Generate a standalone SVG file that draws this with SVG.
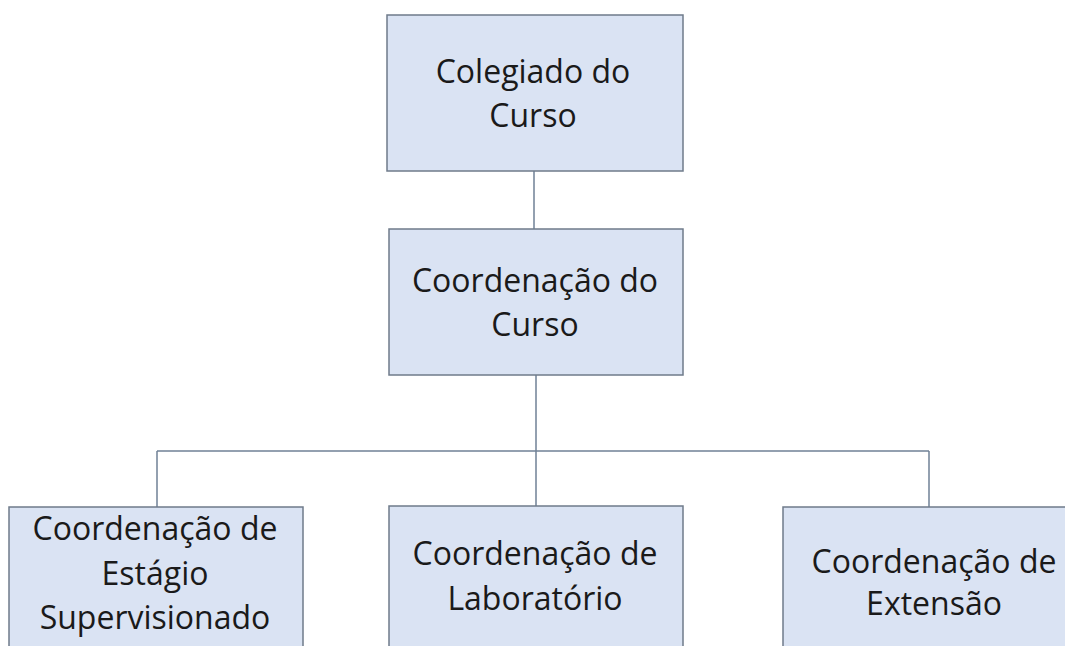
<svg xmlns="http://www.w3.org/2000/svg" width="1065" height="646" viewBox="0 0 1065 646">
<style>
.box{fill:#dae3f3;stroke:#6f7b8a;stroke-width:1.5}
.lbl{font-family:"Open Sans","Noto Sans",sans-serif;font-size:32px;fill:#1a1a1a;text-anchor:middle}
.con{stroke:#6f8096;stroke-width:1.5;fill:none}
</style>
<rect width="1065" height="646" fill="#ffffff"/>
<g id="connectors">
<line class="con" x1="534" y1="171" x2="534" y2="229"/>
<line class="con" x1="536" y1="375" x2="536" y2="506"/>
<line class="con" x1="157" y1="451" x2="929" y2="451"/>
<line class="con" x1="157" y1="451" x2="157" y2="507"/>
<line class="con" x1="929" y1="451" x2="929" y2="507"/>
</g>
<g id="colegiado">
<rect class="box" x="387" y="15" width="296" height="156"/>
<text class="lbl" x="533" y="83">Colegiado do</text>
<text class="lbl" x="533" y="127">Curso</text>
</g>
<g id="coordenacao">
<rect class="box" x="389" y="229" width="294" height="146"/>
<text class="lbl" x="535" y="292">Coordenação do</text>
<text class="lbl" x="535" y="336">Curso</text>
</g>
<g id="estagio">
<rect class="box" x="9" y="507" width="294" height="160"/>
<text class="lbl" x="155" y="540">Coordenação de</text>
<text class="lbl" x="155" y="585">Estágio</text>
<text class="lbl" x="155" y="629">Supervisionado</text>
</g>
<g id="laboratorio">
<rect class="box" x="389" y="506" width="294" height="160"/>
<text class="lbl" x="535" y="565">Coordenação de</text>
<text class="lbl" x="535" y="610">Laboratório</text>
</g>
<g id="extensao">
<rect class="box" x="783" y="507" width="310" height="160"/>
<text class="lbl" x="934" y="573">Coordenação de</text>
<text class="lbl" x="934" y="615">Extensão</text>
</g>
</svg>
